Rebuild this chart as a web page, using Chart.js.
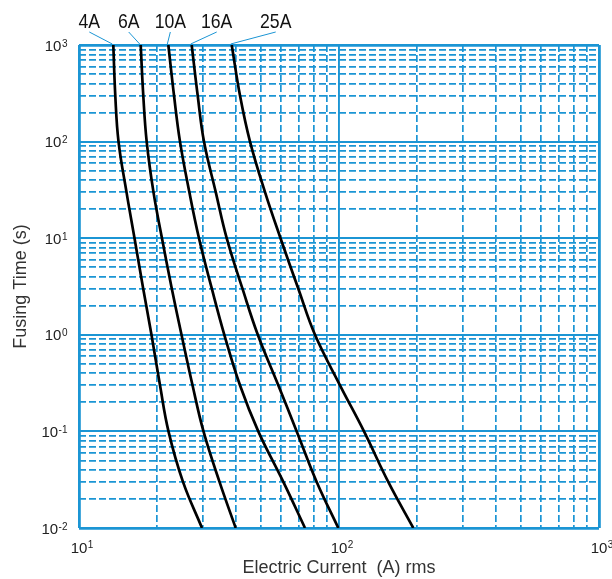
<!DOCTYPE html>
<html>
<head>
<meta charset="utf-8">
<script src="https://cdn.jsdelivr.net/npm/chart.js@4.4.1/dist/chart.umd.min.js"></script>
<style>
  html, body { margin: 0; padding: 0; background: #fff; }
  #wrap { width: 612px; height: 579px; }
</style>
</head>
<body>
<div id="wrap"><canvas id="fuseChart"></canvas></div>
<script>
// fusing time (s) for every reading
var times = [1000, 300, 100, 30, 10, 3, 1, 0.3, 0.1, 0.03, 0.01];

// current (A) at those times
var amps4 = [13.55, 13.79, 14.19, 15.23, 16.35, 17.66, 19.0, 20.49, 22.09, 25.12, 29.72];
var amps6 = [17.27, 17.67, 18.21, 19.34, 20.85, 22.75, 24.79, 27.33, 30.12, 34.71, 40.06];
var amps10 = [22.06, 23.2, 24.46, 26.57, 28.94, 32.43, 36.22, 41.61, 48.93, 61.08, 73.99];
var amps16 = [27.13, 28.61, 30.25, 33.57, 36.99, 42.54, 48.72, 58.42, 68.77, 82.08, 99.4];
var amps25 = [38.67, 41.61, 45.47, 51.93, 59.57, 69.75, 80.86, 100.9, 124.8, 154.7, 193.1];

var curveNames = ['4A', '6A', '10A', '16A', '25A'];
var curveAmps = [amps4, amps6, amps10, amps16, amps25];

// decade exponents shown as tick labels
var xTickExps = [1, 2, 3];
var yTickExps = [3, 2, 1, 0, -1, -2];

var BLUE = '#1b95d4';

function decadeTicks(fromExp, toExp) {
  var out = [];
  for (var e = fromExp; e <= toExp; e++) {
    var steps = e === toExp ? 1 : 9;
    for (var m = 1; m <= steps; m++) {
      out.push({ value: parseFloat((m * Math.pow(10, e)).toPrecision(6)), major: m === 1 });
    }
  }
  return out;
}

function gridWidth(ctx) {
  if (!ctx.tick) return 2;
  var n = ctx.scale.ticks.length;
  if (ctx.index === 0 || ctx.index === n - 1) return 2.8;
  return ctx.tick.major ? 1.9 : 1.7;
}

function gridDash(ctx) {
  if (!ctx.tick || ctx.tick.major) return [];
  return [7, 3];
}

var datasets = [];
for (var i = 0; i < curveNames.length; i++) {
  var pts = [];
  for (var j = 0; j < times.length; j++) {
    pts.push({ x: curveAmps[i][j], y: times[j] });
  }
  datasets.push({
    label: curveNames[i],
    data: pts,
    showLine: true,
    borderColor: '#000',
    borderWidth: 2.7,
    pointRadius: 0,
    tension: 0.4,
    fill: false
  });
}

// tick labels with real superscripts, plus the curve names with leader lines
var labelsPlugin = {
  id: 'fuseLabels',
  afterDraw: function(chart) {
    var c = chart.ctx;
    var xs = chart.scales.x, ys = chart.scales.y;
    c.save();
    c.fillStyle = '#222';

    // x axis
    xTickExps.forEach(function(e) {
      var px = xs.getPixelForValue(Math.pow(10, e));
      c.font = '15px "Liberation Sans", Arial, sans-serif';
      c.textAlign = 'center';
      c.textBaseline = 'alphabetic';
      c.fillText('10', px, 553);
      var w = c.measureText('10').width;
      c.font = '10px "Liberation Sans", Arial, sans-serif';
      c.textAlign = 'left';
      c.fillText(String(e), px + w / 2 + 0.5, 548);
    });

    // y axis
    yTickExps.forEach(function(e) {
      var py = ys.getPixelForValue(Math.pow(10, e));
      var sup = String(e);
      c.font = '10px "Liberation Sans", Arial, sans-serif';
      var sw = c.measureText(sup).width;
      c.textAlign = 'left';
      c.textBaseline = 'alphabetic';
      var right = 67.5;
      c.fillText(sup, right - sw, py + 1.5);
      c.font = '15px "Liberation Sans", Arial, sans-serif';
      c.textAlign = 'right';
      c.fillText('10', right - sw - 0.5, py + 5.5);
    });

    // curve names
    var dx = [-24, -12, 2, 25, 44];
    c.strokeStyle = BLUE;
    c.lineWidth = 1;
    for (var k = 0; k < curveNames.length; k++) {
      var tx = xs.getPixelForValue(curveAmps[k][0]);
      var ty = ys.getPixelForValue(times[0]);
      var lx = tx + dx[k];
      c.save();
      c.translate(lx, 28);
      c.scale(0.84, 1);
      c.font = '21px "Liberation Sans", Arial, sans-serif';
      c.textAlign = 'center';
      c.textBaseline = 'alphabetic';
      c.fillStyle = '#111';
      c.fillText(curveNames[k], 0, 0);
      c.restore();
      c.beginPath();
      c.moveTo(lx, 32);
      c.lineTo(tx - 1, ty - 1);
      c.stroke();
    }
    c.restore();
  }
};

new Chart(document.getElementById('fuseChart'), {
  type: 'scatter',
  data: { datasets: datasets },
  options: {
    responsive: true,
    maintainAspectRatio: false,
    animation: false,
    layout: { padding: { top: 45, right: 13, left: 0, bottom: 0 } },
    plugins: { legend: { display: false }, tooltip: { enabled: false } },
    scales: {
      x: {
        type: 'logarithmic',
        min: 10,
        max: 1000,
        afterBuildTicks: function(scale) { scale.ticks = decadeTicks(1, 3); },
        afterFit: function(scale) { scale.height = 51; },
        ticks: { display: false },
        grid: { color: BLUE, lineWidth: gridWidth, drawTicks: false },
        border: { display: false, dash: gridDash },
        title: {
          display: true,
          text: 'Electric Current  (A) rms',
          color: '#333',
          font: { family: '"Liberation Sans", Arial, sans-serif', size: 18 },
          padding: { top: 0, bottom: 0 }
        }
      },
      y: {
        type: 'logarithmic',
        min: 0.01,
        max: 1000,
        afterBuildTicks: function(scale) { scale.ticks = decadeTicks(-2, 3); },
        afterFit: function(scale) { scale.width = 79; },
        ticks: { display: false },
        grid: { color: BLUE, lineWidth: gridWidth, drawTicks: false },
        border: { display: false, dash: gridDash },
        title: {
          display: true,
          text: 'Fusing Time (s)',
          color: '#333',
          font: { family: '"Liberation Sans", Arial, sans-serif', size: 18 },
          padding: { top: 10, bottom: 0 }
        }
      }
    }
  },
  plugins: [labelsPlugin]
});
</script>
</body>
</html>
